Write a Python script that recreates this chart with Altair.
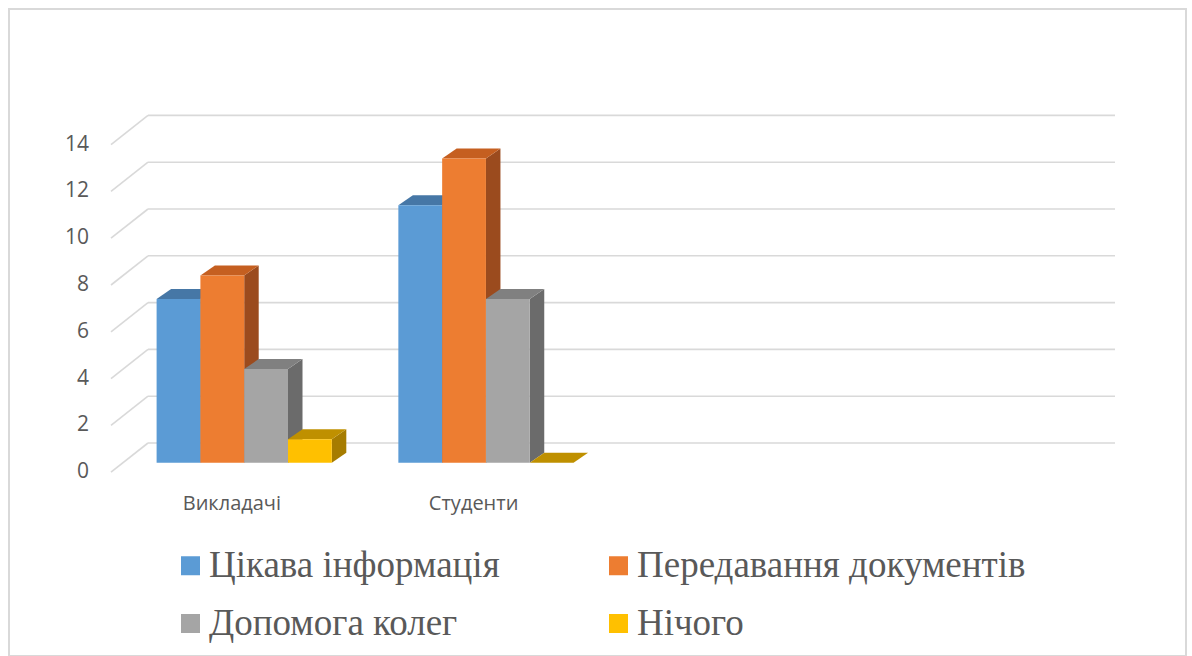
import altair as alt
import pandas as pd

# ---------------- data ----------------
categories = ["Викладачі", "Студенти"]
series = ["Цікава інформація", "Передавання документів", "Допомога колег", "Нічого"]
teachers = [7, 8, 4, 1]
students = [11, 13, 7, 0]
y_ticks = [0, 2, 4, 6, 8, 10, 12, 14]
n_slots = 4  # category slots on the 3D floor (two are empty)

front_colors = ["#5B9BD5", "#ED7D31", "#A5A5A5", "#FFC000"]
top_colors = ["#4677A6", "#C55F20", "#808080", "#BF9000"]
side_colors = ["#3B6690", "#9B4B1E", "#6B6B6B", "#A67C00"]

# ---------------- layout (pseudo 3D projection) ----------------
PAD_L, PAD_T, PAD_R = 9, 9, 6
W = 1192 - PAD_L - PAD_R
H = 656 - PAD_T
PX_U = 241.75      # pixels per category slot
PX_V = 23.4        # pixels per value unit
U0 = 123.0         # absolute px of slot 0 on the bar front plane
V0 = 462.7         # absolute px of value 0 on the bar front plane
x_dom = [(PAD_L - U0) / PX_U, (PAD_L + W - U0) / PX_U]
y_dom = [(V0 - (PAD_T + H)) / PX_V, (V0 - PAD_T) / PX_V]

GROUP_OFF = 0.139
BAR_W = 43.8 / PX_U
DU = 14.5 / PX_U
DV = 10.0 / PX_V
BACK_DU = 25.0 / PX_U
BACK_DV = 19.7 / PX_V
FRONT_DU = -12.0 / PX_U
FRONT_DV = -9.5 / PX_V

xs = alt.Scale(domain=x_dom, nice=False, zero=False)
ys = alt.Scale(domain=y_dom, nice=False, zero=False)

values = [teachers, students]

front_rows, side_rows, top_rows = [], [], []
for c, cat in enumerate(categories):
    for s, name in enumerate(series):
        v = values[c][s]
        xl = c + GROUP_OFF + s * BAR_W
        xr = xl + BAR_W
        bid = f"{c}-{s}"
        front_rows.append({"series": name, "xl": xl, "xr": xr, "y0": 0, "v": v})
        side_rows.append({"id": bid, "x": xr, "lo": 0, "hi": v, "col": side_colors[s]})
        side_rows.append({"id": bid, "x": xr + DU, "lo": DV, "hi": v + DV, "col": side_colors[s]})
        top_rows.append({"id": bid, "y": v, "a": xl, "b": xr, "col": top_colors[s]})
        top_rows.append({"id": bid, "y": v + DV, "a": xl + DU, "b": xr + DU, "col": top_colors[s]})

front_df = pd.DataFrame(front_rows)
side_df = pd.DataFrame(side_rows)
top_df = pd.DataFrame(top_rows)

grid_df = pd.DataFrame({
    "t": y_ticks,
    "fx": [FRONT_DU] * len(y_ticks),
    "fy": [t + FRONT_DV for t in y_ticks],
    "bx": [BACK_DU] * len(y_ticks),
    "by": [t + BACK_DV for t in y_ticks],
    "ex": [BACK_DU + n_slots] * len(y_ticks),
})
ylab_df = pd.DataFrame({
    "label": [str(t) for t in y_ticks],
    "x": [FRONT_DU - 22.0 / PX_U] * len(y_ticks),
    "y": [t + FRONT_DV for t in y_ticks],
})
cat_df = pd.DataFrame({
    "label": categories,
    "x": [c + 0.5 + FRONT_DU for c in range(len(categories))],
    "y": [-41.0 / PX_V] * len(categories),
})

GRID = "#D9D9D9"
TXT = "#595959"

diag = alt.Chart(grid_df).mark_rule(color=GRID, strokeWidth=1.6).encode(
    x=alt.X("fx:Q", scale=xs, axis=None), x2="bx:Q",
    y=alt.Y("fy:Q", scale=ys, axis=None), y2="by:Q",
)
back = alt.Chart(grid_df).mark_rule(color=GRID, strokeWidth=1.6).encode(
    x=alt.X("bx:Q", scale=xs, axis=None), x2="ex:Q",
    y=alt.Y("by:Q", scale=ys, axis=None),
)
ylab = alt.Chart(ylab_df).mark_text(
    align="right", baseline="middle", font="Open Sans", fontSize=21, color=TXT
).encode(
    x=alt.X("x:Q", scale=xs, axis=None), y=alt.Y("y:Q", scale=ys, axis=None), text="label:N"
)
catlab = alt.Chart(cat_df).mark_text(
    align="center", baseline="middle", font="Open Sans", fontSize=20, color=TXT
).encode(
    x=alt.X("x:Q", scale=xs, axis=None), y=alt.Y("y:Q", scale=ys, axis=None), text="label:N"
)
sides = alt.Chart(side_df).mark_area(opacity=1).encode(
    x=alt.X("x:Q", scale=xs, axis=None),
    y=alt.Y("lo:Q", scale=ys, axis=None, stack=None), y2="hi:Q",
    detail="id:N",
    color=alt.Color("col:N", scale=None),
)
tops = alt.Chart(top_df).mark_area(orient="horizontal", opacity=1).encode(
    y=alt.Y("y:Q", scale=ys, axis=None),
    x=alt.X("a:Q", scale=xs, axis=None, stack=None), x2="b:Q",
    detail="id:N",
    color=alt.Color("col:N", scale=None),
)
fronts = alt.Chart(front_df).mark_rect().encode(
    x=alt.X("xl:Q", scale=xs, axis=None), x2="xr:Q",
    y=alt.Y("y0:Q", scale=ys, axis=None), y2="v:Q",
    color=alt.Color(
        "series:N",
        scale=alt.Scale(domain=series, range=front_colors),
        legend=alt.Legend(
            title=None, orient="none", legendX=163, legendY=538, columns=2,
            direction="horizontal",
            symbolType="square", symbolSize=361, symbolStrokeWidth=0, symbolOpacity=1,
            labelFont="Liberation Serif", labelFontSize=37, labelColor=TXT,
            labelOffset=0, columnPadding=100, rowPadding=20, labelLimit=800, padding=0,
        ),
    ),
)

chart = alt.layer(diag, back, ylab, catlab, sides, tops, fronts).properties(
    width=W, height=H,
    autosize=alt.AutoSizeParams(type="none"),
    padding={"left": PAD_L, "top": PAD_T, "right": PAD_R, "bottom": 0},
    background="white",
).configure_view(stroke=GRID, strokeWidth=2)

chart.save("out.html", embed_options={"renderer": "svg", "actions": False})
